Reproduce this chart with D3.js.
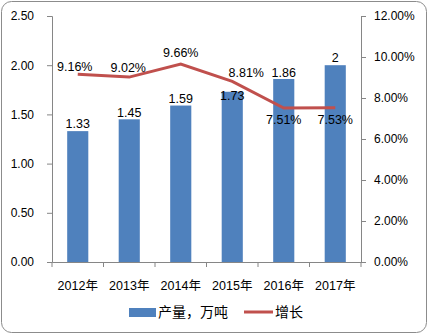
<!DOCTYPE html>
<html><head><meta charset="utf-8">
<script src="https://cdn.jsdelivr.net/npm/d3@7"></script>
<style>body{margin:0;background:#fff}svg{display:block}text{font-family:"Liberation Sans","Noto Sans CJK SC",sans-serif;fill:#000}</style>
</head><body><svg id="c" width="429" height="335"></svg>
<script>
const categories = ["2012年","2013年","2014年","2015年","2016年","2017年"];
const output = [1.33,1.45,1.59,1.73,1.86,2];
const outputLabels = ["1.33","1.45","1.59","1.73","1.86","2"];
const growth = [9.16,9.02,9.66,8.81,7.51,7.53];
const leftTicks = [0,0.5,1,1.5,2,2.5];
const rightTicks = [0,2,4,6,8,10,12];
const seriesNames = ["产量，万吨","增长"];
// label placement offsets (layout only)
const barLabelDy = [-8,-7,-7,4,-6,-8];
const lineLabelDx = [-3,-1,0,14,0,0];
const lineLabelDy = [-8,-9,-11,-9,12,12];

const svg = d3.select("#c");
svg.append("rect").attr("x",1.5).attr("y",1.5).attr("width",425).attr("height",331)
  .attr("rx",10).attr("fill","#fff").attr("stroke","#8c8c8c").attr("stroke-width",1);

const L=52,R=361,T=16,B=262;
const x = d3.scaleBand().domain(categories).range([L,R]).paddingInner(0.59).paddingOuter(0.295);
const xc = d3.scalePoint().domain(categories).range([L,R]).padding(0.5);
const yL = d3.scaleLinear().domain([0,2.5]).range([B,T]);
const yR = d3.scaleLinear().domain([0,12]).range([B,T]);
const axisCol="#868686";

// bars
svg.append("g").selectAll("rect").data(output).join("rect")
  .attr("x",(d,i)=>x(categories[i])).attr("width",x.bandwidth())
  .attr("y",d=>yL(d)).attr("height",d=>B-yL(d)).attr("fill","#4F81BD");

// axes
const gl = svg.append("g").attr("transform",`translate(${L},0)`)
  .call(d3.axisLeft(yL).tickValues(leftTicks).tickFormat(d3.format(".2f")).tickSize(5).tickPadding(13));
const gr = svg.append("g").attr("transform",`translate(${R},0)`)
  .call(d3.axisRight(yR).tickValues(rightTicks).tickFormat(d=>d.toFixed(2)+"%").tickSize(5).tickPadding(8));
const gx = svg.append("g").attr("transform",`translate(0,${B})`)
  .call(d3.axisBottom(x).tickSize(0).tickPadding(19));
[gl,gr,gx].forEach(g=>{
  g.select(".domain").attr("stroke",axisCol);
  g.selectAll(".tick line").attr("stroke",axisCol);
  g.selectAll("text").attr("font-size",12).attr("fill","#000").style("font-family",'"Liberation Sans","Noto Sans CJK SC",sans-serif');
});
gx.selectAll("text").attr("font-size",12.5);
// x category boundary ticks
const step = (R-L)/categories.length;
gx.append("g").selectAll("line").data(d3.range(categories.length+1)).join("line")
  .attr("x1",i=>L+i*step).attr("x2",i=>L+i*step).attr("y1",0).attr("y2",5).attr("stroke",axisCol);

// line
svg.append("path").datum(growth)
  .attr("d",d3.line().x((d,i)=>xc(categories[i])).y(d=>yR(d)))
  .attr("fill","none").attr("stroke","#C0504D").attr("stroke-width",3);

// bar labels
svg.append("g").selectAll("text").data(output).join("text")
  .attr("x",(d,i)=>xc(categories[i])).attr("y",(d,i)=>yL(d)+barLabelDy[i])
  .attr("text-anchor","middle").attr("dy","0.35em").attr("font-size",12.5).text((d,i)=>outputLabels[i]);
// line labels
svg.append("g").selectAll("text").data(growth).join("text")
  .attr("x",(d,i)=>xc(categories[i])+lineLabelDx[i]).attr("y",(d,i)=>yR(d)+lineLabelDy[i])
  .attr("text-anchor","middle").attr("dy","0.35em").attr("font-size",12.5).text(d=>d.toFixed(2)+"%");

// legend
const lg = svg.append("g");
lg.append("rect").attr("x",129).attr("y",308).attr("width",27).attr("height",9).attr("fill","#4F81BD");
lg.append("text").attr("x",158).attr("y",312).attr("dy","0.35em").attr("font-size",14).text(seriesNames[0]);
lg.append("line").attr("x1",244).attr("x2",273).attr("y1",312).attr("y2",312).attr("stroke","#C0504D").attr("stroke-width",3);
lg.append("text").attr("x",275).attr("y",312).attr("dy","0.35em").attr("font-size",14).text(seriesNames[1]);
</script></body></html>
